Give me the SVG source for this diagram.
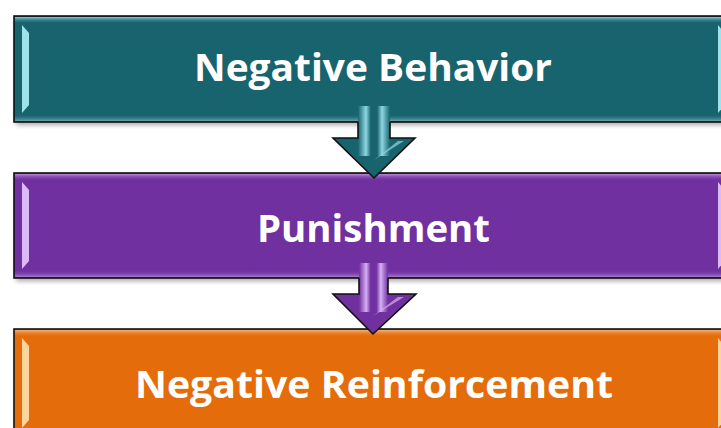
<svg xmlns="http://www.w3.org/2000/svg" width="721" height="428" viewBox="0 0 721 428">
<defs>
<filter id="sh" x="-5%" y="-20%" width="110%" height="150%">
<feGaussianBlur stdDeviation="2.5"/>
</filter>
<linearGradient id="topT" x1="0" y1="0" x2="0" y2="1"><stop offset="0" stop-color="#8fc4cb"/><stop offset="1" stop-color="#17636e" stop-opacity="0"/></linearGradient>
<linearGradient id="topP" x1="0" y1="0" x2="0" y2="1"><stop offset="0" stop-color="#b98ad9"/><stop offset="1" stop-color="#7030a0" stop-opacity="0"/></linearGradient>
<linearGradient id="topO" x1="0" y1="0" x2="0" y2="1"><stop offset="0" stop-color="#f5b27a"/><stop offset="1" stop-color="#e46c0a" stop-opacity="0"/></linearGradient>
<linearGradient id="botT" x1="0" y1="1" x2="0" y2="0"><stop offset="0" stop-color="#6aa3ab"/><stop offset="1" stop-color="#17636e" stop-opacity="0"/></linearGradient>
<linearGradient id="botP" x1="0" y1="1" x2="0" y2="0"><stop offset="0" stop-color="#a979cc"/><stop offset="1" stop-color="#7030a0" stop-opacity="0"/></linearGradient>
<linearGradient id="botO" x1="0" y1="1" x2="0" y2="0"><stop offset="0" stop-color="#f0a062"/><stop offset="1" stop-color="#e46c0a" stop-opacity="0"/></linearGradient>
<linearGradient id="shaftT" x1="0" y1="0" x2="1" y2="0"><stop offset="0" stop-color="#17636e"/><stop offset="0.25" stop-color="#8fd8e2"/><stop offset="0.4" stop-color="#17636e"/><stop offset="0.6" stop-color="#17636e"/><stop offset="0.75" stop-color="#8fd8e2"/><stop offset="1" stop-color="#17636e"/></linearGradient>
<linearGradient id="shaftP" x1="0" y1="0" x2="1" y2="0"><stop offset="0" stop-color="#7030a0"/><stop offset="0.25" stop-color="#d6b0f5"/><stop offset="0.4" stop-color="#7030a0"/><stop offset="0.6" stop-color="#7030a0"/><stop offset="0.75" stop-color="#d6b0f5"/><stop offset="1" stop-color="#7030a0"/></linearGradient>
</defs>
<style>
.edge{stroke:#111;stroke-width:1.6;}
.lbl{font-family:"Open Sans","Noto Sans",sans-serif;font-weight:bold;fill:#fff;text-anchor:middle;}
.bev{fill:#fff;opacity:0.55;}
.ao{fill:none;stroke:#111;stroke-width:1.6;stroke-linejoin:miter;}
</style>

<g id="node-negative-behavior">
<rect x="16" y="19" width="716" height="106" fill="#000" opacity="0.35" filter="url(#sh)"/>
<rect class="edge" x="14" y="16" width="718" height="106" fill="#17636e"/>
<rect x="15" y="17" width="716" height="7" fill="url(#topT)"/>
<rect x="15" y="114" width="716" height="7" fill="url(#botT)"/>
<polygon points="22,25 29,33 29,105 22,113" fill="#9fe2ea"/>
<polygon points="718,25 725,33 725,105 718,113" fill="#9fe2ea"/>
<text class="lbl" x="373" y="81" font-size="38" textLength="358" lengthAdjust="spacingAndGlyphs">Negative Behavior</text>
</g>

<g id="node-punishment">
<rect x="16" y="176" width="716" height="105" fill="#000" opacity="0.35" filter="url(#sh)"/>
<rect class="edge" x="14" y="173" width="718" height="105" fill="#7030a0"/>
<rect x="15" y="174" width="716" height="7" fill="url(#topP)"/>
<rect x="15" y="270" width="716" height="7" fill="url(#botP)"/>
<polygon points="22,182 29,190 29,261 22,269" fill="#dcbaf7"/>
<polygon points="718,182 725,190 725,261 718,269" fill="#dcbaf7"/>
<text class="lbl" x="373.5" y="242" font-size="38" textLength="233" lengthAdjust="spacingAndGlyphs">Punishment</text>
</g>

<g id="node-negative-reinforcement">
<rect x="16" y="332" width="716" height="106" fill="#000" opacity="0.35" filter="url(#sh)"/>
<rect class="edge" x="14" y="329" width="718" height="106" fill="#e46c0a"/>
<rect x="15" y="330" width="716" height="7" fill="url(#topO)"/>
<polygon points="22,338 29,346 29,420 22,428" fill="#fcd49c"/>
<polygon points="718,338 725,346 725,420 718,428" fill="#fcd49c"/>
<text class="lbl" x="374" y="398" font-size="38" textLength="478" lengthAdjust="spacingAndGlyphs">Negative Reinforcement</text>
</g>

<g id="connectors">
<g id="arrow-1">
<path d="M358,106 L390,106 L390,138 L415,138 L374,178 L333,138 L358,138 Z" fill="#17636e"/>
<rect x="358" y="106" width="32" height="50" fill="url(#shaftT)"/>
<path d="M374,160 L398,141 L404,141 Z" fill="#8fd8e2" opacity="0.7"/>
<path class="ao" d="M358,122 L358,138 L333,138 L374,178 L415,138 L390,138 L390,122"/>
</g>
<g id="arrow-2">
<path d="M359,263 L388,263 L388,294 L416,294 L373,334 L333,294 L359,294 Z" fill="#7030a0"/>
<rect x="359" y="263" width="29" height="49" fill="url(#shaftP)"/>
<path d="M373,316 L398,297 L404,297 Z" fill="#d6b0f5" opacity="0.7"/>
<path class="ao" d="M359,278 L359,294 L333,294 L373,334 L416,294 L388,294 L388,278"/>
</g>
</g>
</svg>
